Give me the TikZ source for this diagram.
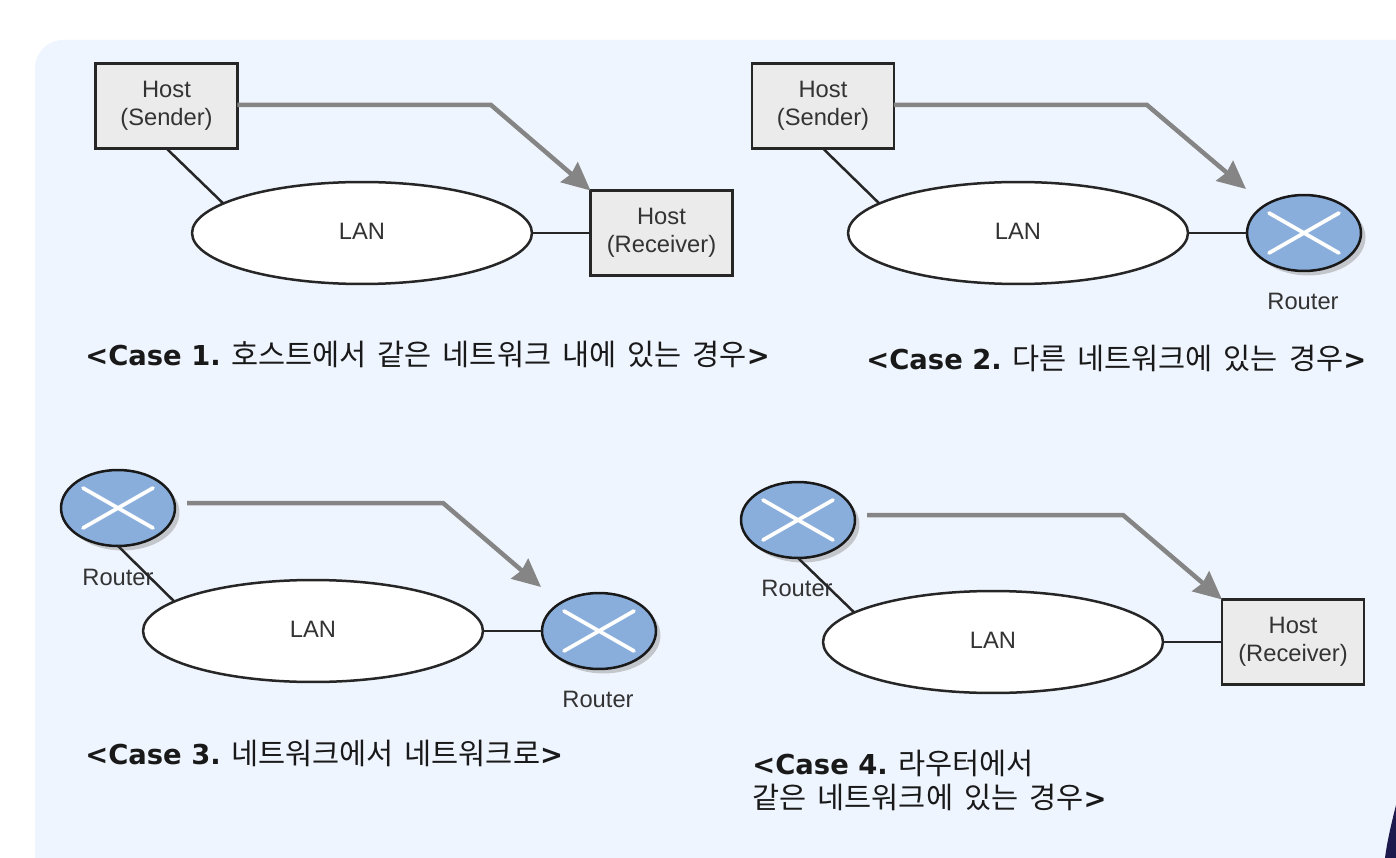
\documentclass[tikz,border=0pt]{standalone}
\usepackage{fontspec}
\setmainfont{Liberation Sans}
\newfontfamily\latinbold{DejaVu Sans Bold}
\newfontfamily\cjk[WordSpace=1.67,Scale=1.075]{Noto Sans CJK KR}
\usetikzlibrary{shapes.geometric,shadows,arrows.meta}
\tikzset{
 hostbox/.style={draw=black!85,fill=black!8,line width=0.045cm,minimum width=2.84cm,minimum height=1.7cm,inner sep=0pt,outer sep=0pt,align=center,text=black!80,font=\fontsize{13.5}{16}\selectfont},
 lanshape/.style={ellipse,draw=black!85,fill=white,line width=0.05cm,minimum width=6.8cm,minimum height=2.04cm,inner sep=0pt,outer sep=0pt,text=black!80,text depth=0.08cm,font=\fontsize{13.5}{16}\selectfont},
 router/.style={ellipse,draw=black!90,fill=routerblue,line width=0.05cm,minimum width=2.28cm,minimum height=1.52cm,inner sep=0pt,outer sep=0pt,
  drop shadow={shadow xshift=0.09cm,shadow yshift=-0.09cm,fill=black!40,opacity=0.5},
  path picture={\draw[white,line width=0.075cm,line cap=round] (path picture bounding box.center) ++(-35,-20) -- ++(70,40) ++(-70,0) -- ++(70,-40);}},
 routertext/.style={text=black!80,inner sep=0pt,font=\fontsize{13.5}{16}\selectfont},
 caselabel/.style={anchor=west,inner sep=0pt,align=left,text=black!90,font=\fontsize{15.6}{19}\selectfont},
 wire/.style={draw=black!85,line width=0.05cm},
 flow/.style={draw=black!48,line width=0.09cm,-{Stealth[length=0.56cm,width=0.52cm,inset=0.05cm]}}
}
\definecolor{pagetint}{HTML}{EFF5FF}
\definecolor{routerblue}{HTML}{8AAEDB}
\definecolor{cornerdark}{HTML}{1C1A4C}
\newcommand{\casetext}[2]{{\latinbold #1} {\cjk #2}}
\begin{document}
\begin{tikzpicture}[x=0.02cm,y=-0.02cm]
 \useasboundingbox (0,0) rectangle (1396,858);
 \fill[white] (0,0) rectangle (1396,858);
 \fill[pagetint,rounded corners=0.56cm] (35,900) -- (35,40) -- (1450,40) -- (1450,900) -- cycle;
 \fill[cornerdark] (1396,805) .. controls (1391,825) and (1387,842) .. (1385,858) -- (1396,858) -- cycle;
 % case 1
 \node[hostbox] (sender1) at (166.5,106) {Host\\(Sender)};
 \node[lanshape] (lan1) at (362,233) {LAN};
 \node[hostbox] (receiver1) at (661.5,233) {Host\\(Receiver)};
 \coordinate (bend1) at (491,105);
 \draw[wire] (sender1.south) -- (lan1.168);
 \draw[wire] (lan1.east) -- (receiver1.west);
 \draw[flow] (sender1.east |- bend1) -- (bend1) -- (receiver1.north west);
 \node[caselabel] (label1) at (85,354) {\casetext{<Case 1.}{호스트에서 같은 네트워크 내에 있는 경우}{\latinbold >}};
 % case 2
 \node[hostbox] (sender2) at (823,106) {Host\\(Sender)};
 \node[lanshape] (lan2) at (1018,233) {LAN};
 \node[router] (router2) at (1304,233) {};
 \node[routertext] (routertext2) at (1303,301) {Router};
 \coordinate (bend2) at (1147,105);
 \coordinate (end2) at (1246,189);
 \draw[wire] (sender2.south) -- (lan2.168);
 \draw[wire] (lan2.east) -- (router2.west);
 \draw[flow] (sender2.east |- bend2) -- (bend2) -- (end2);
 \node[caselabel] (label2) at (866,358) {\casetext{<Case 2.}{다른 네트워크에 있는 경우}{\latinbold >}};
 % case 3
 \node[router] (router3a) at (118,508) {};
 \node[lanshape] (lan3) at (313,631) {LAN};
 \node[router] (router3b) at (599,631) {};
 \node[routertext] (routertext3a) at (118,577) {Router};
 \node[routertext] (routertext3b) at (598,699) {Router};
 \coordinate (start3) at (187,503);
 \coordinate (bend3) at (443,503);
 \coordinate (end3) at (541,587);
 \draw[wire] (router3a.south) -- (lan3.168);
 \draw[wire] (lan3.east) -- (router3b.west);
 \draw[flow] (start3) -- (bend3) -- (end3);
 \node[caselabel] (label3) at (85,753) {\casetext{<Case 3.}{네트워크에서 네트워크로}{\latinbold >}};
 % case 4
 \node[router] (router4) at (798,520) {};
 \node[lanshape] (lan4) at (993,642) {LAN};
 \node[hostbox] (receiver4) at (1293,642) {Host\\(Receiver)};
 \node[routertext] (routertext4) at (797,588) {Router};
 \coordinate (start4) at (867,515);
 \coordinate (bend4) at (1123,515);
 \draw[wire] (router4.south) -- (lan4.168);
 \draw[wire] (lan4.east) -- (receiver4.west);
 \draw[flow] (start4) -- (bend4) -- (receiver4.north west);
 \node[caselabel] (label4) at (752,780.5) {\casetext{<Case 4.}{라우터에서}\\{\cjk 같은 네트워크에 있는 경우}{\latinbold >}};
\end{tikzpicture}
\end{document}
